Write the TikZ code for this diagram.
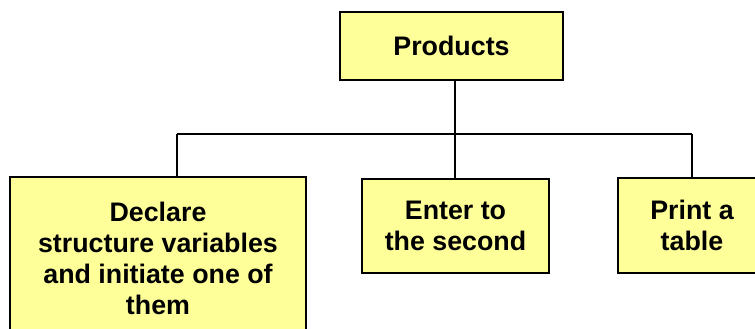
\documentclass[tikz,border=0pt]{standalone}
\usepackage{fontspec}
\setmainfont{Liberation Sans}
\usepackage{xcolor}
\usetikzlibrary{positioning}
\definecolor{boxyellow}{HTML}{FFFF99}

\begin{document}
\begin{tikzpicture}[
  x=1pt,y=-1pt,
  font=\fontsize{26.8}{31}\selectfont\bfseries,
  block/.style={draw,line width=2pt,fill=boxyellow,align=center,inner sep=0pt},
  link/.style={line width=1.2pt}
]
\useasboundingbox (0,0) rectangle (755,329);
\clip (0,0) rectangle (755,329);

\node[block,minimum width=223pt,minimum height=68pt] (products) at (451.5,46) {Products};
\node[block,minimum width=296pt,minimum height=163pt] (declare) at (158,258.5) {Declare\\structure variables\\and initiate one of\\them};
\node[block,minimum width=187pt,minimum height=94pt] (enter) at (455.5,226) {Enter to\\the second};
\node[block,minimum width=148pt,minimum height=95pt] (print) at (692,225) {Print a\\table};

% bus line
\coordinate (bus) at (455,134);
\coordinate (busleft) at (177,134);
\coordinate (busright) at (692,134);
\draw[link] (products.south -| bus) -- (bus);
\draw[link] (busleft) -- (busright);
\draw[link] (busleft) -- (busleft |- declare.north);
\draw[link] (bus) -- (bus |- enter.north);
\draw[link] (busright) -- (print.north);
\end{tikzpicture}
\end{document}
